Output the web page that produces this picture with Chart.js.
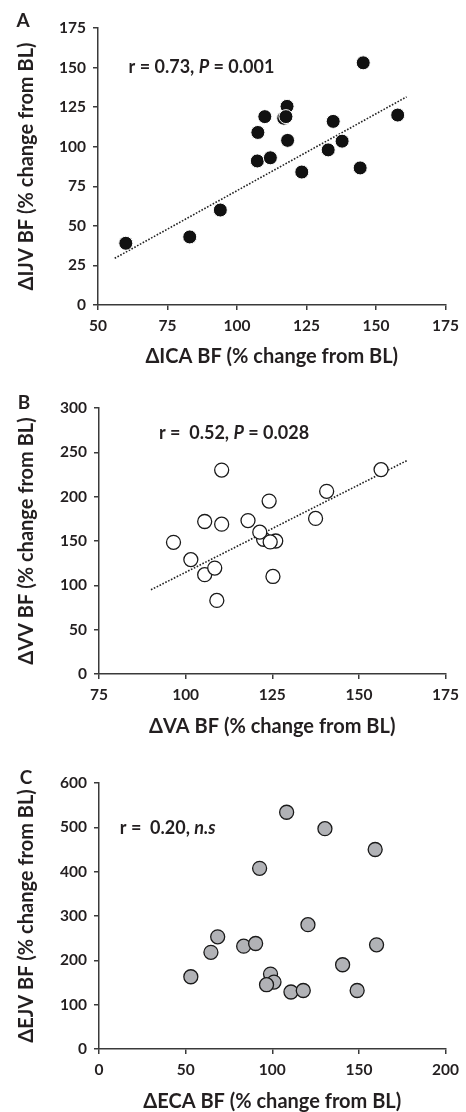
<!DOCTYPE html>
<html>
<head>
<meta charset="utf-8">
<script src="https://cdn.jsdelivr.net/npm/chart.js@4.4.1/dist/chart.umd.min.js"></script>
<style>
  body { margin: 0; background: #fff; }
  canvas { position: absolute; left: 0; }
</style>
</head>
<body>
<canvas id="chartA" width="466" height="370" style="top:0px"></canvas>
<canvas id="chartB" width="466" height="370" style="top:370px"></canvas>
<canvas id="chartC" width="466" height="372" style="top:740px"></canvas>
<script>
// Panel A - ICA vs IJV
const icaX = [60, 83, 94, 107.3, 107.5, 110, 112, 118, 116.8, 117.6, 118.2, 123.3, 132.8, 134.6, 137.8, 144.3, 145.4, 157.8];
const ijvY = [39, 43, 60, 91, 109, 119, 93, 125.5, 118, 119, 104, 84, 98, 116, 103.5, 86.6, 153, 120];
const trendAX = [56, 161];
const trendAY = [29.5, 131.5];
const xTicksA = [50, 75, 100, 125, 150, 175];
const yTicksA = [0, 25, 50, 75, 100, 125, 150, 175];

// Panel B - VA vs VV
const vaX = [96.5, 101.5, 105.5, 105.5, 108.4, 109, 110.4, 110.4, 118, 122.5, 121.4, 124.1, 126, 124.4, 125.2, 137.5, 140.7, 156.4];
const vvY = [148.5, 129, 172, 112, 119.5, 83, 230, 169, 173, 152, 160, 195, 150, 149, 110, 175.5, 206, 230.5];
const trendBX = [90, 164];
const trendBY = [95, 241];
const xTicksB = [75, 100, 125, 150, 175];
const yTicksB = [0, 50, 100, 150, 200, 250, 300];

// Panel C - ECA vs EJV
const ecaX = [53, 64.6, 68.5, 83.5, 90.4, 92.7, 99, 101, 96.7, 108.3, 110.8, 117.9, 120.6, 130.4, 140.6, 149, 159.4, 160.2];
const ejvY = [163, 218, 253, 232, 238, 407.5, 169, 151, 145, 534, 128.6, 132, 280.5, 497, 190, 132, 450, 235];
const xTicksC = [0, 50, 100, 150, 200];
const yTicksC = [0, 100, 200, 300, 400, 500, 600];

const FONT = 'Lato, "DejaVu Sans", sans-serif';
const INK = '#231f20';
const AXIS = '#3a3a3a';

function toPoints(xs, ys) {
    return xs.map((x, i) => ({ x: x, y: ys[i] }));
}

// draws the panel letter and the r / P text
function labelPlugin(letter, lx, ly, parts, ax, ay) {
    return {
        id: 'labels' + letter,
        afterDraw(chart) {
            const ctx = chart.ctx;
            ctx.save();
            ctx.fillStyle = INK;
            ctx.textBaseline = 'middle';
            ctx.textAlign = 'center';
            ctx.font = 'bold 19px ' + FONT;
            ctx.fillText(letter, lx, ly);

            let x = chart.scales.x.getPixelForValue(ax);
            const y = chart.scales.y.getPixelForValue(ay);
            ctx.textAlign = 'left';
            parts.forEach(p => {
                ctx.font = (p[1] ? 'italic ' : '') + 'bold 18px ' + FONT;
                ctx.fillText(p[0], x, y);
                x += ctx.measureText(p[0]).width;
            });
            ctx.restore();
        }
    };
}

function axis(ticks, title, size, titlePad, horizontal) {
    return {
        type: 'linear',
        min: ticks[0],
        max: ticks[ticks.length - 1],
        afterBuildTicks: s => { s.ticks = ticks.map(v => ({ value: v })); },
        afterFit: s => {
            if (horizontal) s.height = size; else s.width = size;
        },
        border: { display: true, color: AXIS, width: 1.5 },
        grid: { drawOnChartArea: false, drawTicks: true, tickLength: 5, color: AXIS, lineWidth: 1.5 },
        ticks: { color: INK, padding: 7, font: { family: FONT, size: 15.5, weight: 'bold' } },
        title: {
            display: true, text: title, color: INK, padding: titlePad,
            font: { family: FONT, size: 20, weight: 'bold', lineHeight: 1 }
        }
    };
}

function makePanel(id, cfg) {
    const datasets = [{
        type: 'scatter',
        data: toPoints(cfg.xs, cfg.ys),
        backgroundColor: cfg.fill,
        borderColor: cfg.stroke,
        borderWidth: cfg.strokeWidth,
        pointRadius: 7,
        order: 1
    }];
    if (cfg.trendX) {
        datasets.push({
            type: 'line',
            data: toPoints(cfg.trendX, cfg.trendY),
            borderColor: '#222',
            borderWidth: 1.6,
            borderDash: [1.6, 1.6],
            pointRadius: 0,
            fill: false,
            order: 2
        });
    }
    new Chart(document.getElementById(id), {
        data: { datasets: datasets },
        options: {
            responsive: false,
            animation: false,
            layout: { padding: cfg.padding },
            plugins: { legend: { display: false }, tooltip: { enabled: false } },
            scales: {
                x: axis(cfg.xTicks, cfg.xTitle, cfg.xHeight, { bottom: cfg.xTitlePad }, true),
                y: axis(cfg.yTicks, cfg.yTitle, cfg.yWidth, { top: 17 }, false)
            }
        },
        plugins: [labelPlugin(cfg.letter, cfg.letterPos[0], cfg.letterPos[1], cfg.note, cfg.notePos[0], cfg.notePos[1])]
    });
}

makePanel('chartA', {
    xs: icaX, ys: ijvY, trendX: trendAX, trendY: trendAY,
    xTicks: xTicksA, yTicks: yTicksA,
    xTitle: '\u0394ICA BF (% change from BL)', yTitle: '\u0394IJV BF (% change from BL)',
    fill: '#111', stroke: '#fff', strokeWidth: 1,
    padding: { left: 0, top: 28, right: 18, bottom: 0 },
    yWidth: 98, xHeight: 65, xTitlePad: 3,
    letter: 'A', letterPos: [23, 21],
    note: [['r = 0.73, ', false], ['P', true], [' = 0.001', false]], notePos: [61, 150]
});

makePanel('chartB', {
    xs: vaX, ys: vvY, trendX: trendBX, trendY: trendBY,
    xTicks: xTicksB, yTicks: yTicksB,
    xTitle: '\u0394VA BF (% change from BL)', yTitle: '\u0394VV BF (% change from BL)',
    fill: '#fff', stroke: '#1a1a1a', strokeWidth: 1.3,
    padding: { left: 0, top: 38, right: 14, bottom: 0 },
    yWidth: 99, xHeight: 66, xTitlePad: 3,
    letter: 'B', letterPos: [24, 33],
    note: [['r =  0.52, ', false], ['P', true], [' = 0.028', false]], notePos: [92.3, 272]
});

makePanel('chartC', {
    xs: ecaX, ys: ejvY,
    xTicks: xTicksC, yTicks: yTicksC,
    xTitle: '\u0394ECA BF (% change from BL)', yTitle: '\u0394EJV BF (% change from BL)',
    fill: '#b1b2b6', stroke: '#1a1a1a', strokeWidth: 1.3,
    padding: { left: 0, top: 43, right: 20, bottom: 0 },
    yWidth: 99, xHeight: 63, xTitlePad: 0,
    letter: 'C', letterPos: [26, 38],
    note: [['r =  0.20, ', false], ['n.s', true]], notePos: [12, 499]
});
</script>
</body>
</html>
